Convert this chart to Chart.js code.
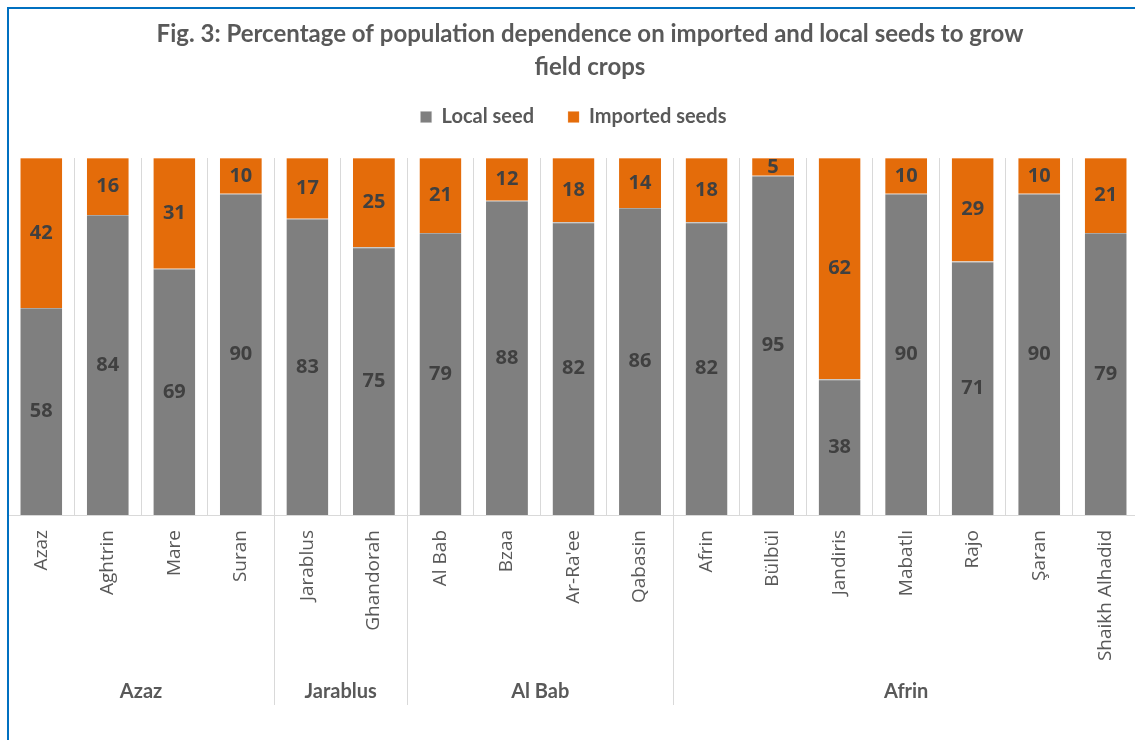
<!DOCTYPE html>
<html>
<head>
<meta charset="utf-8">
<title>Seeds dependence</title>
<script src="https://cdn.jsdelivr.net/npm/chart.js@4.4.0/dist/chart.umd.min.js"></script>
<style>
    body { margin: 0; overflow: hidden; background: #ffffff; }
    canvas { position: absolute; left: 0; top: 0; }
    #frame {
        position: absolute; left: 7px; top: 7px; width: 1200px; height: 800px;
        border-left: 2px solid #0070c0; border-top: 2px solid #0070c0;
        pointer-events: none;
    }
</style>
</head>
<body>
<canvas id="seedChart" width="1172" height="740"></canvas>
<div id="frame"></div>
<script>
const villages = ['Azaz', 'Aghtrin', 'Mare', 'Suran', 'Jarablus', 'Ghandorah', 'Al Bab', 'Bzaa',
    'Ar-Ra\'ee', 'Qabasin', 'Afrin', 'Bülbül', 'Jandiris', 'Mabatlı', 'Rajo', 'Şaran', 'Shaikh Alhadid'];
const districts = ['Azaz', 'Jarablus', 'Al Bab', 'Afrin'];
const districtSizes = [4, 2, 4, 7];
const localSeed = [58, 84, 69, 90, 83, 75, 79, 88, 82, 86, 82, 95, 38, 90, 71, 90, 79];
const importedSeeds = [42, 16, 31, 10, 17, 25, 21, 12, 18, 14, 18, 5, 62, 10, 29, 10, 21];

// numbers in the middle of each segment
const valueLabels = {
    id: 'valueLabels',
    afterDatasetsDraw(chart) {
        const ctx = chart.ctx;
        ctx.save();
        ctx.font = 'bold 20px "Open Sans"';
        ctx.fillStyle = '#404040';
        ctx.textAlign = 'center';
        ctx.textBaseline = 'middle';
        chart.data.datasets.forEach((ds, i) => {
            chart.getDatasetMeta(i).data.forEach((bar, j) => {
                ctx.fillText(ds.data[j], bar.x, (bar.y + bar.base) / 2);
            });
        });
        ctx.restore();
    }
};

// district names and separators under the village labels
const districtAxis = {
    id: 'districtAxis',
    afterDraw(chart) {
        const ctx = chart.ctx;
        const xs = chart.scales.x;
        const top = chart.chartArea.bottom;
        let start = 0;
        ctx.save();
        ctx.strokeStyle = '#d9d9d9';
        ctx.lineWidth = 1;
        ctx.fillStyle = '#595959';
        ctx.font = 'bold 20px Lato';
        ctx.textAlign = 'center';
        ctx.textBaseline = 'middle';
        districts.forEach((name, i) => {
            const end = start + districtSizes[i] - 1;
            const mid = (xs.getPixelForValue(start) + xs.getPixelForValue(end)) / 2;
            ctx.fillText(name, mid, top + 177);
            if (start > 0) {
                const edge = Math.round((xs.getPixelForValue(start - 1) + xs.getPixelForValue(start)) / 2) + 0.5;
                ctx.beginPath();
                ctx.moveTo(edge, top);
                ctx.lineTo(edge, top + 190);
                ctx.stroke();
            }
            start = end + 1;
        });
        ctx.restore();
    }
};

const ctx = document.getElementById('seedChart').getContext('2d');
new Chart(ctx, {
    type: 'bar',
    data: {
        labels: villages,
        datasets: [{
            label: 'Local seed',
            data: localSeed,
            backgroundColor: '#7f7f7f',
            borderColor: '#a6a6a6',
            borderWidth: { top: 1, left: 0, right: 0, bottom: 0 },
            xAxisID: 'x',
            yAxisID: 'y'
        }, {
            label: 'Imported seeds',
            data: importedSeeds,
            backgroundColor: '#e46c0a',
            borderColor: '#f19a55',
            borderWidth: { top: 1, left: 0, right: 0, bottom: 0 },
            xAxisID: 'x',
            yAxisID: 'y'
        }]
    },
    options: {
        responsive: false,
        animation: false,
        barPercentage: 0.63,
        categoryPercentage: 1.0,
        layout: { padding: { left: 8, right: 0, top: 0, bottom: 0 } },
        plugins: {
            title: {
                display: true,
                text: ['Fig. 3: Percentage of population dependence on imported and local seeds to grow', 'field crops'],
                color: '#595959',
                font: { family: 'Lato', size: 24, weight: 'bold', lineHeight: '33px' },
                padding: { top: 18, bottom: -11 }
            },
            legend: {
                fullSize: false,
                labels: {
                    boxWidth: 11,
                    boxHeight: 11,
                    padding: 34,
                    color: '#595959',
                    font: { family: 'Lato', size: 20, weight: 'bold' }
                }
            },
            tooltip: { enabled: false }
        },
        scales: {
            x: {
                stacked: true,
                position: 'bottom',
                grid: { color: '#d9d9d9', drawTicks: false, offset: true },
                border: { display: true, color: '#d9d9d9' },
                ticks: {
                    autoSkip: false,
                    minRotation: 90,
                    maxRotation: 90,
                    padding: 15,
                    color: '#595959',
                    font: { family: '"Open Sans"', size: 19 }
                },
                afterFit(scale) { scale.height = 225; }
            },
            xTop: {
                type: 'linear',
                position: 'top',
                min: 0, max: 1,
                grid: { display: false },
                border: { display: false },
                ticks: { display: false },
                afterFit(scale) { scale.height = 21; }
            },
            y: {
                stacked: true,
                display: false,
                min: 0,
                max: 100
            },
            yRight: {
                type: 'linear',
                position: 'right',
                min: 0, max: 1,
                grid: { display: false },
                border: { display: false },
                ticks: { display: false },
                afterFit(scale) { scale.width = 33; }
            }
        }
    },
    plugins: [valueLabels, districtAxis]
});
</script>
</body>
</html>
